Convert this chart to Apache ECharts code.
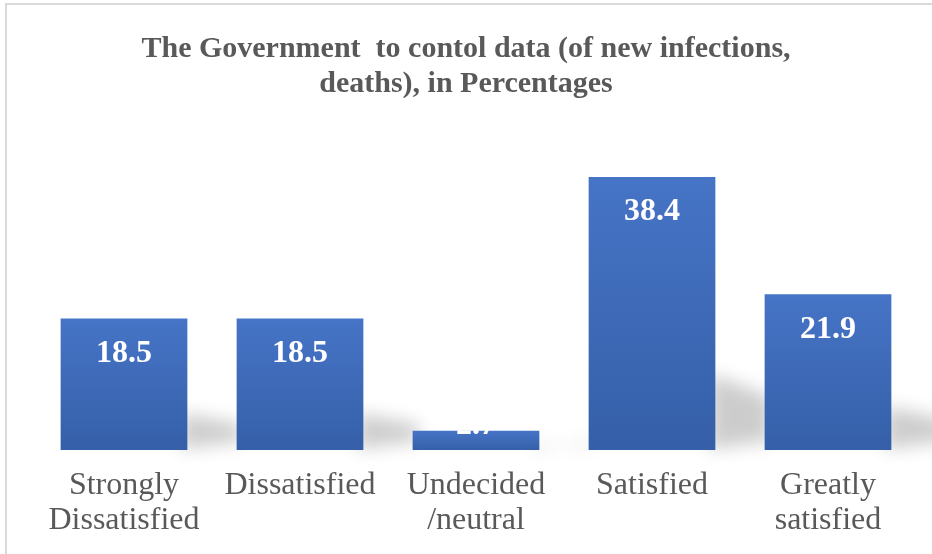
<!DOCTYPE html>
<html><head><meta charset="utf-8">
<script src="https://cdn.jsdelivr.net/npm/echarts@6/dist/echarts.min.js"></script>
<style>html,body{margin:0;padding:0;background:#fff}#c{width:932px;height:554px}</style>
</head><body><div id="c"></div>
<script>
const titleText = 'The Government  to contol data (of new infections,\ndeaths), in Percentages';
const categories = ['Strongly\nDissatisfied', 'Dissatisfied', 'Undecided\n/neutral', 'Satisfied', 'Greatly\nsatisfied'];
const values = [18.5, 18.5, 2.7, 38.4, 21.9];

const chart = echarts.init(document.getElementById('c'));
const OFF = 3000;
chart.setOption({
  animation: false,
  backgroundColor: '#fff',
  title: {
    text: titleText, left: 'center', top: 27,
    textStyle: {fontFamily: 'Liberation Serif', fontWeight: 'bold', fontSize: 30, color: '#595959', lineHeight: 35}
  },
  graphic: [{type: 'rect', shape: {x: 6, y: 4, width: 1200, height: 1200}, style: {fill: 'none', stroke: '#d9d9d9', lineWidth: 2}, silent: true}],
  grid: {left: 36, right: 16, top: 130, bottom: 104},
  xAxis: {
    type: 'category', data: categories,
    axisLine: {show: false}, axisTick: {show: false},
    axisLabel: {fontFamily: 'Liberation Serif', fontSize: 32, color: '#595959', lineHeight: 35, margin: 18, interval: 0}
  },
  yAxis: {type: 'value', min: 0, max: 45, show: false, splitLine: {show: false}},
  series: [
    {
      type: 'custom', z: 1, silent: true, clip: false,
      data: values.map((v, i) => [i, v]),
      renderItem: function (params, api) {
        const i = api.value(0), v = api.value(1);
        const base = api.coord([i, 0]);
        const top = api.coord([i, v]);
        const bw = api.size([1, 0])[0] * 0.72;
        const xR = base[0] + bw / 2;
        const h = base[1] - top[1];
        const sh = h * 0.28;
        const yB = base[1];
        const pts = [[xR - 6, yB - sh], [xR + 55, yB - sh * 0.7], [xR + 55, yB - 8], [xR + 28, yB - 6], [xR - 6, yB]];
        return {
          type: 'polygon',
          shape: {points: pts.map(p => [p[0] - OFF, p[1]])},
          style: {fill: '#000', shadowBlur: 18, shadowOffsetX: OFF, shadowColor: 'rgba(0,0,0,0.2)'}
        };
      }
    },
    {
      type: 'bar', z: 2, barWidth: '72%',
      data: values.map(v => v < 5 ? {value: v, label: {position: 'top', distance: -11}} : v),
      itemStyle: {
        color: {type: 'linear', x: 0, y: 0, x2: 0, y2: 1, colorStops: [{offset: 0, color: '#4674c6'}, {offset: 1, color: '#355fa8'}]}
      },
      label: {
        show: true, position: 'insideTop', distance: 19,
        fontFamily: 'Liberation Serif', fontWeight: 'bold', fontSize: 32, color: '#ffffff',
        formatter: p => p.value.toFixed(1)
      }
    }
  ]
});
</script></body></html>
